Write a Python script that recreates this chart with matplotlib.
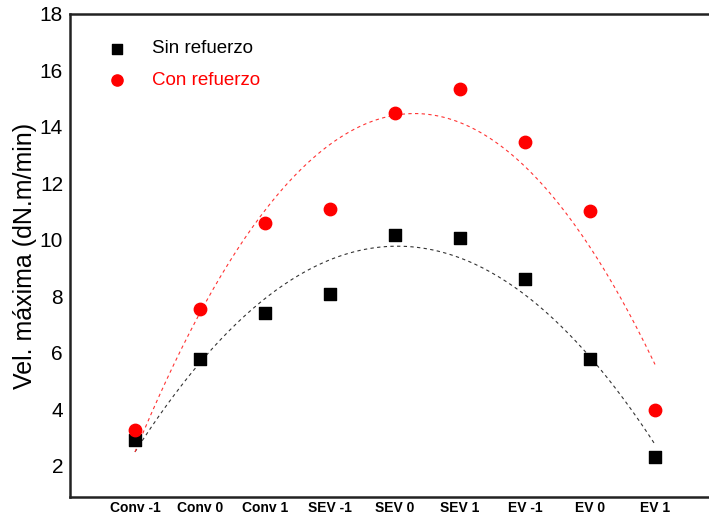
import numpy as np
import matplotlib.pyplot as plt

plt.rcParams['font.family'] = ['Liberation Sans', 'DejaVu Sans']

categorias = ["Conv -1", "Conv 0", "Conv 1", "SEV -1", "SEV 0", "SEV 1", "EV -1", "EV 0", "EV 1"]
sin_refuerzo = [2.92, 5.79, 7.42, 8.09, 10.18, 10.07, 8.62, 5.79, 2.32]
con_refuerzo = [3.27, 7.56, 10.6, 11.1, 14.5, 15.35, 13.47, 11.03, 3.98]
yticks = [2, 4, 6, 8, 10, 12, 14, 16, 18]

x = np.arange(1, len(categorias) + 1)

fig = plt.figure(figsize=(7.09, 5.19), dpi=100)
ax = fig.add_axes([70 / 709, 1 - 497 / 519, 650 / 709, (497 - 14) / 519])

# lineas de tendencia (polinomio de grado 2)
xs = np.linspace(1, 9, 200)
for serie, col in [(sin_refuerzo, '#333333'), (con_refuerzo, '#ff3333')]:
    coef = np.polyfit(x, serie, 2)
    ax.plot(xs, np.polyval(coef, xs), color=col, linestyle=(0, (3, 3)), linewidth=0.8, zorder=1)

ax.scatter(x, sin_refuerzo, marker='s', s=64, color='black', label='Sin refuerzo', zorder=3)
ax.scatter(x, con_refuerzo, marker='o', s=80, color='#ff0000', label='Con refuerzo', zorder=3)

ax.set_xlim(0, 10)
ax.set_ylim(0.9, 18)
ax.set_xticks(x)
ax.set_xticklabels(categorias, fontsize=10, fontweight='bold')
ax.set_yticks(yticks)
ax.tick_params(axis='y', labelsize=15, length=0, pad=5)
ax.tick_params(axis='x', length=0, pad=3)
ax.set_ylabel("Vel. máxima (dN.m/min)", fontsize=18, labelpad=2)

for s in ax.spines.values():
    s.set_linewidth(1.8)
    s.set_color('#222222')

leg = ax.legend(loc='upper left', bbox_to_anchor=(0.032, 0.961), frameon=False, fontsize=13.5,
                handletextpad=0.85, labelspacing=0.76, borderaxespad=0, markerscale=0.9)
for txt, col in zip(leg.get_texts(), ['black', '#ff0000']):
    txt.set_color(col)

fig.savefig('out.png', dpi=100)
